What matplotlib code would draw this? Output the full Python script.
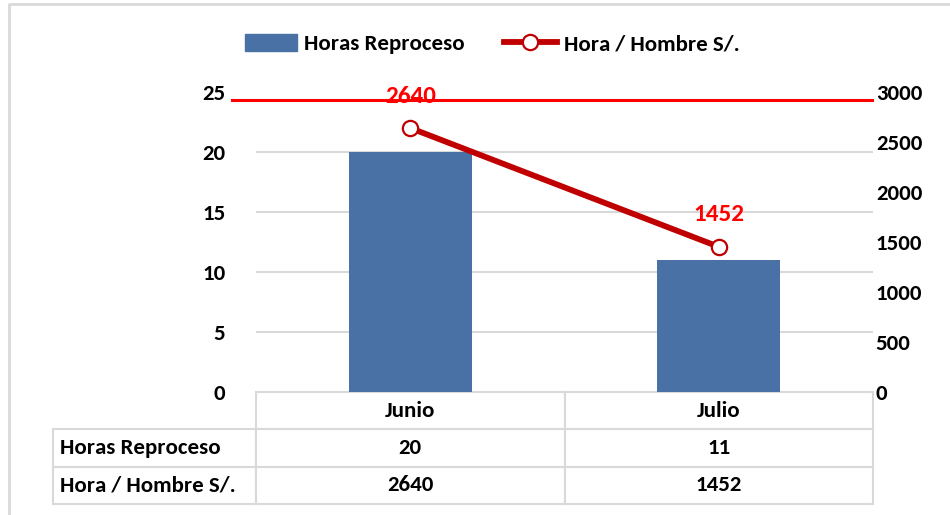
import matplotlib
matplotlib.use("Agg")
import matplotlib.pyplot as plt
from matplotlib import font_manager
from matplotlib.lines import Line2D
from matplotlib.patches import Patch
from matplotlib.table import Table
import numpy as np

# data
meses = ["Junio", "Julio"]
horas_reproceso = [20, 11]
hora_hombre = [2640, 1452]
serie_barras = "Horas Reproceso"
serie_linea = "Hora / Hombre S/."

BLUE = "#4A71A6"
DARK_RED = "#C00000"
RED = "#FF0000"
GRID = "#D9D9D9"

available = {f.name for f in font_manager.fontManager.ttflist}
family = next((f for f in ["Carlito", "Liberation Sans Narrow", "Lato", "Liberation Sans"]
               if f in available), "DejaVu Sans")
plt.rcParams["font.family"] = [family, "DejaVu Sans"]
plt.rcParams["font.weight"] = "bold"
FS = 16.5

W, H = 950, 515
fig = plt.figure(figsize=(W / 100, H / 100), dpi=100)

# plot area in pixel coords of the reference
x0, x1 = 256, 873
y_top, y_bot = 92, 392
ax = fig.add_axes([x0 / W, 1 - y_bot / H, (x1 - x0) / W, (y_bot - y_top) / H])
ax2 = ax.twinx()

x = np.arange(len(meses))
ax.bar(x, horas_reproceso, width=0.40, color=BLUE, zorder=2)
ax.set_xlim(-0.5, len(meses) - 0.5)
ax.set_ylim(0, 25)
ax.set_yticks(range(0, 26, 5))
ax.set_xticks([])
for y in range(5, 25, 5):
    ax.axhline(y, color=GRID, lw=1.5, zorder=0)

ax2.plot(x, hora_hombre, color=DARK_RED, lw=4.2, marker="o", ms=11,
         mfc="white", mec=DARK_RED, mew=1.6, zorder=3)
ax2.set_ylim(0, 3000)
ax2.set_yticks(range(0, 3001, 500))
for xi, v in zip(x, hora_hombre):
    ax2.annotate(str(v), (xi, v), xytext=(0, 23), textcoords="offset points",
                 ha="center", va="center", color=RED, fontsize=FS + 1.5,
                 fontweight="bold")

for a in (ax, ax2):
    for s in a.spines.values():
        s.set_visible(False)
    a.tick_params(length=0, labelsize=FS)
ax.tick_params(axis="y", pad=22)
ax2.tick_params(axis="y", pad=2)
ax.set_zorder(ax2.get_zorder() - 1)
ax2.patch.set_visible(False)

# red line drawn across the top of the plot
fig.add_artist(Line2D([232 / W, 872 / W], [1 - 100 / H, 1 - 100 / H],
                      color=RED, lw=2.2, transform=fig.transFigure))

# data table under the plot
row_w = (256 - 53) / (x1 - x0)
tbl_h = (504 - y_bot) / (y_bot - y_top)
tbl = Table(ax, bbox=[-row_w, -tbl_h, 1 + row_w, tbl_h])
rows = [("", meses),
        (serie_barras, [str(v) for v in horas_reproceso]),
        (serie_linea, [str(v) for v in hora_hombre])]
for r, (label, vals) in enumerate(rows):
    cell = tbl.add_cell(r, 0, row_w, 1, text=label, loc="left")
    cell.PAD = 0.035
    if r == 0:
        cell.visible_edges = ""
    for c, v in enumerate(vals, start=1):
        tbl.add_cell(r, c, 0.5, 1, text=v, loc="center")
tbl.auto_set_font_size(False)
tbl.set_fontsize(FS)
for cell in tbl.get_celld().values():
    cell.set_edgecolor(GRID)
    cell.set_linewidth(1.5)
    cell.get_text().set_fontweight("bold")
ax.add_table(tbl)

handles = [Patch(color=BLUE),
           Line2D([], [], color=DARK_RED, lw=4.2, marker="o", ms=11,
                  mfc="white", mec=DARK_RED, mew=1.6)]
fig.legend(handles, [serie_barras, serie_linea], loc="center",
           bbox_to_anchor=(492 / W, 1 - 44 / H), ncol=2, frameon=False,
           fontsize=FS, handlelength=2.3, handleheight=0.75,
           columnspacing=1.7, handletextpad=0.3)

# chart outer border
fig.add_artist(Line2D([9 / W, 9 / W, 1], [0, 1 - 4 / H, 1 - 4 / H],
                      color=GRID, lw=2, transform=fig.transFigure))

fig.savefig("out.png", dpi=100)
